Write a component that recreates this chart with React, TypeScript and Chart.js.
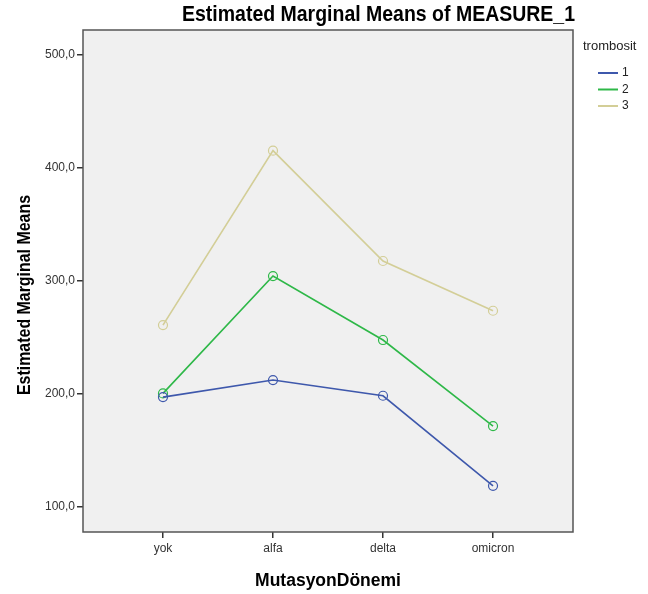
import React, { useEffect, useRef } from "react";
import { Chart, registerables } from "chart.js";

Chart.register(...registerables);

const categories = ["yok", "alfa", "delta", "omicron"];
const seriesNames = ["1", "2", "3"];
const series1 = [197.3, 212.4, 198.5, 118.8];
const series2 = [200.6, 304.4, 247.8, 171.7];
const series3 = [261.0, 415.3, 317.7, 273.7];
const yTicks = [100, 200, 300, 400, 500];
const colors = ["#3E58AC", "#2EB848", "#D3CE97"];

const chartTitle = "Estimated Marginal Means of MEASURE_1";
const yTitle = "Estimated Marginal Means";
const xTitle = "MutasyonDönemi";
const legendTitle = "trombosit";

const FONT = "'Liberation Sans', Arial, sans-serif";

function drawCondensed(ctx: any, text: string, x: number, y: number, font: string, targetWidth: number, rotate: boolean) {
  ctx.save();
  ctx.font = font;
  const w = ctx.measureText(text).width;
  const sx = Math.min(1, targetWidth / w);
  ctx.translate(x, y);
  if (rotate) ctx.rotate(-Math.PI / 2);
  ctx.scale(sx, 1);
  ctx.textAlign = "center";
  ctx.textBaseline = "alphabetic";
  ctx.fillText(text, 0, 0);
  ctx.restore();
}

export default function App() {
  const ref = useRef<HTMLCanvasElement | null>(null);

  useEffect(() => {
    const canvas = ref.current;
    if (!canvas) return;
    const allSeries = [series1, series2, series3];

    const decor = {
      id: "decor",
      beforeDraw(chart: any) {
        const { ctx, chartArea: a } = chart;
        ctx.save();
        ctx.fillStyle = "#ffffff";
        ctx.fillRect(0, 0, chart.width, chart.height);
        ctx.fillStyle = "#F0F0F0";
        ctx.fillRect(a.left, a.top, a.right - a.left, a.bottom - a.top);
        ctx.restore();
      },
      afterDraw(chart: any) {
        const { ctx, chartArea: a } = chart;
        ctx.save();
        ctx.strokeStyle = "#555555";
        ctx.lineWidth = 1.5;
        ctx.strokeRect(a.left, a.top, a.right - a.left, a.bottom - a.top);

        ctx.fillStyle = "#000000";
        drawCondensed(ctx, chartTitle, 378.5, 21, `bold 22px ${FONT}`, 393, false);
        drawCondensed(ctx, yTitle, 30, 295, `bold 19px ${FONT}`, 200, true);

        ctx.textAlign = "center";
        ctx.textBaseline = "alphabetic";
        ctx.font = `bold 17.5px ${FONT}`;
        ctx.fillText(xTitle, (a.left + a.right) / 2, 586);

        // legend
        ctx.textAlign = "left";
        ctx.textBaseline = "middle";
        ctx.fillStyle = "#222222";
        ctx.font = `13px ${FONT}`;
        ctx.fillText(legendTitle, 583, 46);
        chart.data.datasets.forEach((ds: any, i: number) => {
          const y = 73 + i * 16.5;
          ctx.strokeStyle = ds.borderColor;
          ctx.lineWidth = 2;
          ctx.beginPath();
          ctx.moveTo(598, y);
          ctx.lineTo(618, y);
          ctx.stroke();
          ctx.fillStyle = "#222222";
          ctx.font = `12px ${FONT}`;
          ctx.fillText(ds.label, 622, y);
        });
        ctx.restore();
      },
    };

    const chart = new Chart(canvas, {
      type: "line",
      data: {
        datasets: allSeries.map((s, i) => ({
          label: seriesNames[i],
          data: s.map((v, j) => ({ x: j, y: v })),
          borderColor: colors[i],
          backgroundColor: "transparent",
          borderWidth: 1.6,
          pointRadius: 4.5,
          pointBorderWidth: 1.2,
          pointBorderColor: colors[i],
          pointBackgroundColor: "transparent",
          fill: false,
          tension: 0,
        })),
      },
      options: {
        responsive: false,
        animation: false,
        layout: { padding: { left: 0, top: 30, right: 75, bottom: 0 } },
        plugins: {
          legend: { display: false },
          title: { display: false },
          tooltip: { enabled: false },
        },
        scales: {
          x: {
            type: "linear",
            min: -0.727,
            max: 3.727,
            afterBuildTicks(scale: any) {
              scale.ticks = categories.map((_, i) => ({ value: i }));
            },
            afterFit(scale: any) {
              scale.height = 62;
            },
            ticks: {
              callback: (v: any) => categories[v] ?? "",
              color: "#333333",
              font: { family: FONT, size: 12 },
              padding: 3,
              maxRotation: 0,
              autoSkip: false,
            },
            grid: {
              drawOnChartArea: false,
              drawTicks: true,
              tickLength: 6,
              color: "#333333",
              lineWidth: 1.5,
            },
            border: { display: false },
          },
          y: {
            type: "linear",
            min: 78,
            max: 522,
            afterBuildTicks(scale: any) {
              scale.ticks = yTicks.map((v) => ({ value: v }));
            },
            afterFit(scale: any) {
              scale.width = 83;
            },
            ticks: {
              callback: (v: any) => Number(v).toFixed(1).replace(".", ","),
              color: "#333333",
              font: { family: FONT, size: 12 },
              padding: 2,
            },
            grid: {
              drawOnChartArea: false,
              drawTicks: true,
              tickLength: 6,
              color: "#333333",
              lineWidth: 1.5,
            },
            border: { display: false },
          },
        },
      },
      plugins: [decor],
    } as any);

    return () => chart.destroy();
  }, []);

  return (
    <div style={{ position: "absolute", left: 0, top: 0, width: 648, height: 594, background: "#fff" }}>
      <canvas ref={ref} width={648} height={594} style={{ display: "block" }} />
    </div>
  );
}
